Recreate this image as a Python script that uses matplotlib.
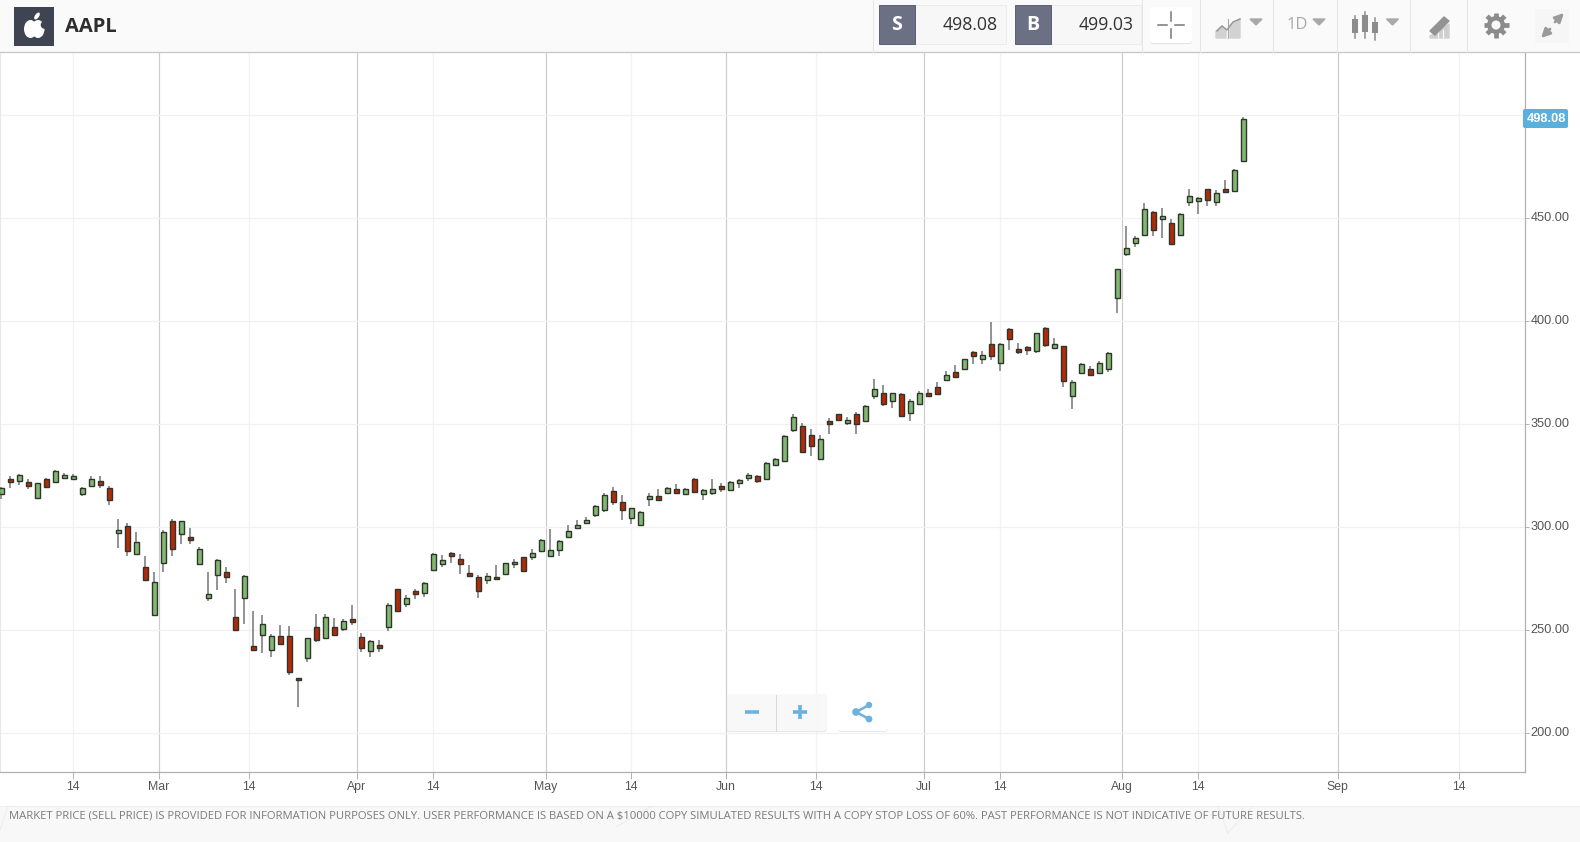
import numpy as np
from matplotlib import pyplot as plt
from matplotlib.patches import Rectangle, Circle, Ellipse, Polygon, FancyBboxPatch
from matplotlib.transforms import ScaledTranslation

# daily candles
opens = [315.9,323.5,322.3,322.0,314.1,323.6,321.8,323.8,323.3,315.9,320.2,322.5,318.8,297.1,300.5,286.9,280.9,257.3,282.5,302.9,
         296.6,295.1,281.9,265.4,277.0,278.3,256.3,265.5,242.2,247.6,240.5,247.1,247.1,227.0,236.6,251.5,246.4,251.5,250.8,255.3,
         246.6,240.0,242.7,251.5,269.9,262.8,268.9,268.3,279.1,281.9,287.5,284.8,277.7,276.0,274.3,276.0,277.5,281.9,285.3,285.3,
         288.3,286.2,289.0,295.0,299.8,301.9,305.8,308.1,317.5,312.0,304.4,301.0,313.6,314.9,316.8,318.6,316.2,323.4,316.2,316.8,
         319.9,317.9,321.3,323.9,324.6,323.4,330.1,332.2,347.4,349.2,344.8,333.3,351.4,354.7,350.6,354.7,351.3,363.9,365.0,361.1,
         364.5,355.2,360.0,365.0,367.8,371.5,375.4,377.0,385.2,381.4,389.1,379.6,396.1,386.4,387.3,385.7,396.6,386.9,388.0,363.9,
         374.7,377.0,374.7,377.0,411.3,432.6,437.7,441.7,453.0,449.5,447.5,441.9,457.7,458.2,464.1,457.7,464.1,463.2,477.8]
highs = [319.7,324.6,325.6,323.5,321.5,323.8,327.7,326.2,325.6,319.6,324.6,324.6,320.1,303.9,302.1,297.9,285.9,278.3,298.7,303.9,
         303.1,299.5,290.6,278.3,284.5,280.9,270.1,276.7,259.1,257.4,248.1,252.6,252.1,227.0,246.4,257.9,257.9,255.8,255.3,262.3,
         248.7,245.2,245.3,263.1,270.2,267.0,270.2,273.3,287.7,286.4,288.0,286.9,281.6,277.0,277.7,281.6,282.8,284.6,285.6,289.6,
         294.3,299.0,293.8,301.1,303.4,305.0,310.7,316.8,319.7,315.8,309.5,307.9,316.5,318.6,319.6,320.9,318.9,323.9,318.4,323.4,
         321.3,322.3,323.4,326.2,325.5,331.5,333.5,344.6,354.7,350.5,347.5,344.6,352.9,355.0,353.4,356.1,359.2,372.1,368.9,365.2,
         365.0,362.1,366.2,367.0,370.4,375.9,378.6,381.7,385.4,385.4,399.8,389.3,396.6,389.6,387.7,394.1,397.0,391.7,388.1,371.3,
         379.6,378.2,380.7,384.9,425.4,446.2,441.4,457.2,453.4,455.1,449.5,452.7,463.9,460.0,464.2,463.7,468.6,473.6,499.0]
lows = [313.6,319.1,320.7,318.6,313.8,319.1,321.5,323.5,323.0,314.9,319.9,319.1,310.8,290.1,286.2,286.6,274.1,257.1,278.3,286.2,
        291.7,291.7,281.6,264.4,269.4,272.7,249.8,253.1,240.1,238.8,237.1,242.6,228.5,212.6,234.5,244.5,246.1,247.7,249.8,252.6,
        239.3,237.1,239.3,249.7,259.2,261.2,265.2,266.2,278.8,280.9,282.5,277.2,276.4,265.5,272.6,274.4,277.3,280.4,278.3,284.1,
        288.0,286.1,286.2,294.8,298.9,301.6,304.8,307.6,310.8,303.7,301.6,300.6,310.3,313.3,316.5,316.3,315.8,316.8,313.1,315.8,
        317.1,317.6,319.1,322.3,321.3,323.1,329.8,331.9,346.4,336.2,334.3,333.0,345.3,351.9,349.6,345.3,350.9,362.2,359.0,357.9,
        353.7,351.3,359.7,363.6,364.0,371.2,372.8,376.7,379.1,379.1,381.2,375.9,386.2,384.1,383.4,384.6,387.5,386.5,368.1,357.3,
        374.4,373.4,374.4,375.4,403.9,431.7,436.0,441.1,441.4,440.3,436.7,441.6,456.1,452.2,456.1,456.1,462.4,462.9,477.5]
closes = [318.8,321.8,325.2,320.1,321.4,319.4,327.5,325.4,324.8,318.8,323.6,320.7,313.4,298.5,288.5,293.0,274.3,273.3,297.9,289.6,
          302.9,293.9,289.3,267.5,284.3,275.9,250.2,276.5,240.3,253.1,247.1,243.5,229.6,225.6,246.1,245.3,256.5,247.9,254.4,254.0,
          241.6,244.8,241.6,262.0,259.5,265.5,267.8,273.1,287.0,284.3,286.2,282.3,276.5,269.2,276.2,274.7,282.5,283.2,278.5,287.5,
          294.0,288.7,293.5,298.0,301.3,303.4,310.3,315.8,312.4,308.2,309.2,307.6,314.9,313.4,319.2,316.8,318.6,317.0,318.1,318.6,
          318.3,322.0,323.0,325.2,322.2,331.2,333.3,344.3,353.7,336.5,339.3,342.7,350.1,352.2,351.9,350.1,359.0,367.1,360.0,365.0,
          354.0,361.3,365.0,363.9,364.4,373.8,373.1,381.5,383.0,383.6,383.0,389.1,391.2,384.9,385.9,394.0,388.5,389.1,370.8,370.5,
          379.4,373.8,379.7,384.6,425.2,435.4,440.4,454.6,444.1,450.9,437.5,451.9,460.6,459.7,458.9,462.1,462.6,473.3,498.08]

month_pos = [17.5, 39.5, 60.5, 80.5, 102.5, 124.5, 148.5]
month_labels = ['Mar', 'Apr', 'May', 'Jun', 'Jul', 'Aug', 'Sep']
day_pos = [8, 27.5, 48, 70, 90.5, 111, 133, 162]
day_labels = ['14'] * 8
price_ticks = [200, 250, 300, 350, 400, 450, 500]
price_labels = ['200.00', '250.00', '300.00', '350.00', '400.00', '450.00', '']

last_price = '498.08'
sell_price = '498.08'
buy_price = '499.03'
symbol = 'AAPL'
disclaimer = ('MARKET PRICE (SELL PRICE) IS PROVIDED FOR INFORMATION PURPOSES ONLY. USER PERFORMANCE IS BASED ON A $10000 '
              'COPY SIMULATED RESULTS WITH A COPY STOP LOSS OF 60%. PAST PERFORMANCE IS NOT INDICATIVE OF FUTURE RESULTS.')

W, H = 1580, 842
UI_GREY = '#a9a9a9'
UI_BLUE = '#6cb2de'


def draw_candles(ax):
    x = np.arange(len(opens))
    o = np.array(opens)
    c = np.array(closes)
    up = c >= o
    ax.vlines(x, lows, highs, color='#858585', lw=1.25, zorder=3)
    colors = np.where(up, '#82b972', '#b32a08')
    ax.bar(x, np.abs(c - o), bottom=np.minimum(o, c), width=0.56, color=colors,
           edgecolor='#2f352c', linewidth=1.0, zorder=4)


def triangle(ov, cx, cy):
    ov.add_patch(Polygon([[cx - 6, cy - 3], [cx + 6, cy - 3], [cx, cy + 3]], color=UI_GREY))


def draw_header(ov):
    ov.add_patch(Rectangle((0, 0), W, 52, fc='#fafafa', ec='none'))
    ov.plot([0, W], [52, 52], color='#c6c6c6', lw=0.9)
    for sx in [872.5, 1142, 1200, 1273, 1336.5, 1409.5, 1466.5]:
        ov.plot([sx, sx], [0, 52], color='#e6e6e6', lw=0.72)

    # logo
    ov.add_patch(Rectangle((14, 7), 40, 39, fc='#3f4453', ec='none'))
    ov.add_patch(Ellipse((30.5, 29), 13, 18, fc='white', ec='none'))
    ov.add_patch(Ellipse((38, 29), 13, 18, fc='white', ec='none'))
    ov.add_patch(Circle((44.5, 25), 3.8, fc='#3f4453', ec='none'))
    ov.add_patch(Ellipse((37, 16), 4, 8, angle=35, fc='white', ec='none'))
    ov.text(65, 26.5, symbol, fontsize=14.5, fontweight='bold', family='Open Sans',
            color='#2e2e2e', ha='left', va='center')

    # sell / buy boxes
    for x0, x1, x2, letter, val in [(879, 915, 1005.5, 'S', sell_price), (1015, 1051, 1141, 'B', buy_price)]:
        ov.add_patch(Rectangle((x0, 4.5), x2 - x0, 39.5, fc='#f7f7f7', ec='#ececec', lw=0.72))
        ov.add_patch(Rectangle((x0, 4.5), x1 - x0, 39.5, fc='#6b7085', ec='#5d6276', lw=0.72))
        ov.text((x0 + x1) / 2, 24.5, letter, color='white', fontsize=14, fontweight='bold',
                family='Open Sans', ha='center', va='center')
        ov.text(x2 - 7.5, 25, val, color='#333333', fontsize=12.7, family='Open Sans',
                ha='right', va='center')

    # crosshair button
    ov.add_patch(FancyBboxPatch((1152, 10), 38, 32, boxstyle='round,pad=2,rounding_size=3',
                                fc='#e2e2e2', ec='none'))
    ov.add_patch(FancyBboxPatch((1152, 9), 38, 32, boxstyle='round,pad=2,rounding_size=3',
                                fc='white', ec='none'))
    for xs, ys in [([1158, 1167], [25, 25]), ([1175, 1184], [25, 25]), ([1171, 1171], [12, 21]), ([1171, 1171], [29, 38])]:
        ov.plot(xs, ys, color='#777777', lw=1.1)

    # area / line icon
    ov.add_patch(Polygon([[1216, 38], [1216, 31], [1222, 26], [1226, 30], [1226, 38]], color='#d2d2d2'))
    ov.add_patch(Polygon([[1230, 38], [1230, 25], [1240, 19], [1240, 38]], color='#d2d2d2'))
    ov.plot([1228, 1228], [19, 38], color=UI_GREY, lw=0.8)
    ov.plot([1217, 1222, 1227, 1233, 1240], [31, 26, 30, 22, 19], color='#9a9a9a', lw=1.1)
    triangle(ov, 1256, 22)

    ov.text(1297, 25, '1D', color=UI_GREY, fontsize=12, family='Open Sans', ha='center', va='center')
    triangle(ov, 1319, 22)

    # candle icon
    for cx, top, bot, y0, y1 in [(1355, 19, 33, 16, 38), (1365, 15, 32, 12, 38), (1375, 22, 33, 18, 40)]:
        ov.plot([cx, cx], [y0, y1], color='#8c8c8c', lw=1.1)
        ov.add_patch(Rectangle((cx - 3, top), 6, bot - top, fc='#8c8c8c', ec='none', zorder=3))
    triangle(ov, 1392.5, 22)

    # drawing tool icon
    ov.add_patch(Polygon([[1430, 36], [1449, 24], [1449, 38], [1430, 38]], color='#cfcfcf'))
    for bx in [1438, 1443]:
        ov.plot([bx, bx], [30, 38], color='#fafafa', lw=0.8)
    ov.add_patch(Polygon([[1430, 31], [1444, 17], [1449, 21], [1435, 35]], color='#939393', zorder=3))

    # gear
    for a in np.arange(0, 180, 45):
        dx = 12.5 * np.cos(np.radians(a))
        dy = 12.5 * np.sin(np.radians(a))
        ov.plot([1496 - dx, 1496 + dx], [25 - dy, 25 + dy], color='#8c8c8c', lw=3.4, solid_capstyle='butt')
    ov.add_patch(Circle((1496, 25), 9, fc='#8c8c8c', ec='none', zorder=3))
    ov.add_patch(Circle((1496, 25), 4.5, fc='#fafafa', ec='none', zorder=4))

    # expand arrows
    ov.add_patch(Rectangle((1535, 9), 34, 34, fc='#f6f6f6', ec='none'))
    ov.annotate('', xy=(1564, 13), xytext=(1555, 22),
                arrowprops=dict(arrowstyle='-|>', color='#9a9a9a', lw=2, mutation_scale=13, shrinkA=0, shrinkB=0))
    ov.annotate('', xy=(1541, 38), xytext=(1550, 29),
                arrowprops=dict(arrowstyle='-|>', color='#9a9a9a', lw=2, mutation_scale=13, shrinkA=0, shrinkB=0))


def draw_zoom_buttons(ov):
    ov.add_patch(FancyBboxPatch((729, 697), 96, 33, boxstyle='round,pad=2,rounding_size=3',
                                fc='#dddddd', ec='none', alpha=0.7))
    ov.add_patch(FancyBboxPatch((729, 696), 96, 33, boxstyle='round,pad=2,rounding_size=3',
                                fc='#f9f9f9', ec='none', alpha=0.95))
    ov.plot([775.5, 775.5], [695, 731], color='#d8d8d8', lw=0.72)
    ov.plot([745, 759], [712, 712], color=UI_BLUE, lw=2.6, solid_capstyle='butt')
    ov.plot([793, 807], [712, 712], color=UI_BLUE, lw=2.6, solid_capstyle='butt')
    ov.plot([800, 800], [705, 719], color=UI_BLUE, lw=2.6, solid_capstyle='butt')

    ov.add_patch(FancyBboxPatch((840, 697), 46, 33, boxstyle='round,pad=2,rounding_size=3',
                                fc='#dddddd', ec='none', alpha=0.7))
    ov.add_patch(FancyBboxPatch((840, 696), 46, 33, boxstyle='round,pad=2,rounding_size=3',
                                fc='white', ec='none'))
    ov.plot([869, 856, 869], [705, 712, 719], color=UI_BLUE, lw=1.8)
    for cx, cy, r in [(869, 705, 3.2), (856, 712, 3.8), (869, 719, 3.4)]:
        ov.add_patch(Circle((cx, cy), r, fc=UI_BLUE, ec='none', zorder=3))


def draw_footer(ov):
    ov.add_patch(Rectangle((0, 806), W, 36, fc='#f8f8f8', ec='none'))
    ov.plot([0, W], [806, 806], color='#ececec', lw=0.72)
    for xs, ys in [([0, 8], [830, 806]), ([616, 652], [827, 806]), ([1228, 1253], [833, 806]), ([1218, 1228], [806, 833])]:
        ov.plot(xs, ys, color='#ececec', lw=0.72)
    ov.text(9, 815.5, disclaimer, color='#7b7b7b', fontsize=8.11, family='Open Sans', ha='left', va='center')


def main():
    fig = plt.figure(figsize=(W / 100, H / 100), dpi=100, facecolor='white')

    ax = fig.add_axes([0, (H - 772.2) / H, 1524.5 / W, (772.2 - 52.6) / H])
    draw_candles(ax)
    ax.set_xlim(-0.14, 169.25)
    ax.set_ylim(181.1, 530.3)

    ax.set_xticks(month_pos)
    ax.set_xticklabels(month_labels)
    ax.set_xticks(day_pos, minor=True)
    ax.set_xticklabels(day_labels, minor=True)
    ax.tick_params(axis='x', which='both', length=5, width=0.72, color='#b5b5b5', labelcolor='#555555',
                   labelsize=8.8, pad=1.5, labelfontfamily='Liberation Sans')
    ax.grid(axis='x', which='major', color='#cccccc', lw=0.85)
    ax.grid(axis='x', which='minor', color='#f3f3f3', lw=0.85)

    ax.yaxis.tick_right()
    ax.set_yticks(price_ticks)
    ax.set_yticklabels(price_labels)
    ax.tick_params(axis='y', length=3, width=0.72, color='#b5b5b5', labelcolor='#555555', labelsize=9.2,
                   pad=1.5, labelfontfamily='Liberation Sans')
    ax.grid(axis='y', color='#f1f1f1', lw=0.85)
    ax.set_axisbelow(True)

    # the price labels sit a little above their gridline
    nudge = ScaledTranslation(0, 2 / 100, fig.dpi_scale_trans)
    for label in ax.get_yticklabels():
        label.set_transform(label.get_transform() + nudge)

    ax.spines['top'].set_visible(False)
    ax.spines['left'].set_color('#e8e8e8')
    for side in ['right', 'bottom']:
        ax.spines[side].set_color('#b0b0b0')
        ax.spines[side].set_linewidth(0.9)

    # overlay in figure pixels for the page furniture
    ov = fig.add_axes([0, 0, 1, 1], facecolor='none')
    ov.set_xlim(0, W)
    ov.set_ylim(H, 0)
    ov.axis('off')

    draw_header(ov)
    draw_zoom_buttons(ov)
    draw_footer(ov)

    # last price badge
    ov.add_patch(FancyBboxPatch((1525, 111), 41, 15, boxstyle='round,pad=2,rounding_size=2',
                                fc='#5ab0dc', ec='none'))
    ov.text(1546, 118.7, last_price, color='white', fontsize=9.2, fontweight='bold',
            family='Liberation Sans', ha='center', va='center')

    fig.savefig('out.png', dpi=100)
    plt.close(fig)


if __name__ == '__main__':
    main()
